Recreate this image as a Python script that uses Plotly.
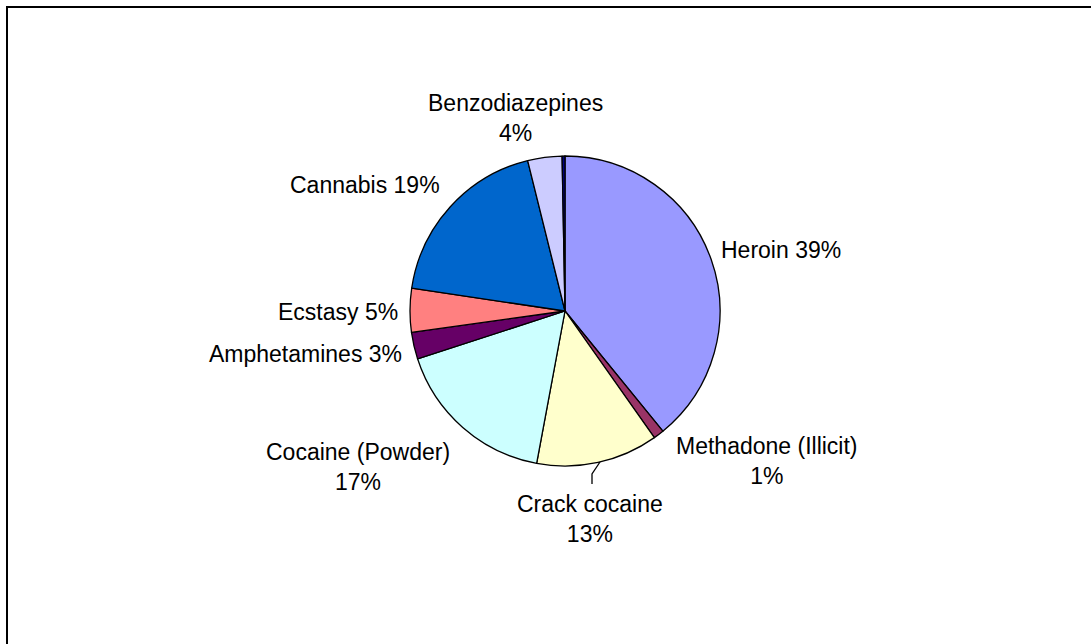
import plotly.graph_objects as go

W, H = 1091, 644

labels = ["Heroin", "Methadone (Illicit)", "Crack cocaine", "Cocaine (Powder)",
          "Amphetamines", "Ecstasy", "Cannabis", "Benzodiazepines", "Other"]
values = [39.4, 1.1, 12.8, 17.2, 2.8, 4.6, 18.9, 3.6, 0.3]
shown_pct = ["39%", "1%", "13%", "17%", "3%", "5%", "19%", "4%", ""]
colors = ["#9999FF", "#993366", "#FFFFCC", "#CCFFFF", "#660066",
          "#FF8080", "#0066CC", "#CCCCFF", "#000080"]

# label layout (pixel centres) and line-break style
label_pos = [(781, 250), (767, 461), (590, 519), (358, 467),
             (306, 354), (338, 312), (365, 185), (515, 118), None]
two_line = [False, True, True, True, False, False, False, True, False]

cx, cy, r = 565, 311, 155

fig = go.Figure(go.Pie(
    labels=labels, values=values, sort=False, direction="clockwise",
    rotation=0, textinfo="none", hoverinfo="label+percent",
    marker=dict(colors=colors, line=dict(color="black", width=1.3)),
    domain=dict(x=[(cx - r) / W, (cx + r) / W], y=[1 - (cy + r) / H, 1 - (cy - r) / H]),
    showlegend=False,
))

annos = []
for lab, pct, pos, tl in zip(labels, shown_pct, label_pos, two_line):
    if pos is None:
        continue
    txt = f"{lab}<br>{pct}" if tl else f"{lab} {pct}"
    annos.append(dict(x=pos[0] / W, y=1 - pos[1] / H, xref="paper", yref="paper",
                      text=txt, showarrow=False, xanchor="center", yanchor="middle",
                      align="center", font=dict(family="Liberation Sans, Arial", size=23, color="black")))

shapes = [
    dict(type="rect", xref="paper", yref="paper", x0=7 / W, x1=1.05, y0=-0.05, y1=1 - 7 / H,
         line=dict(color="black", width=2), fillcolor="rgba(0,0,0,0)"),
    dict(type="path", xref="paper", yref="paper",
         path=f"M {600/W} {1-462/H} L {592/W} {1-474/H} L {592/W} {1-484/H}",
         line=dict(color="black", width=1.3)),
]

fig.update_layout(width=W, height=H, margin=dict(l=0, r=0, t=0, b=0),
                  paper_bgcolor="white", plot_bgcolor="white",
                  annotations=annos, shapes=shapes)
fig.write_html("out.html")
